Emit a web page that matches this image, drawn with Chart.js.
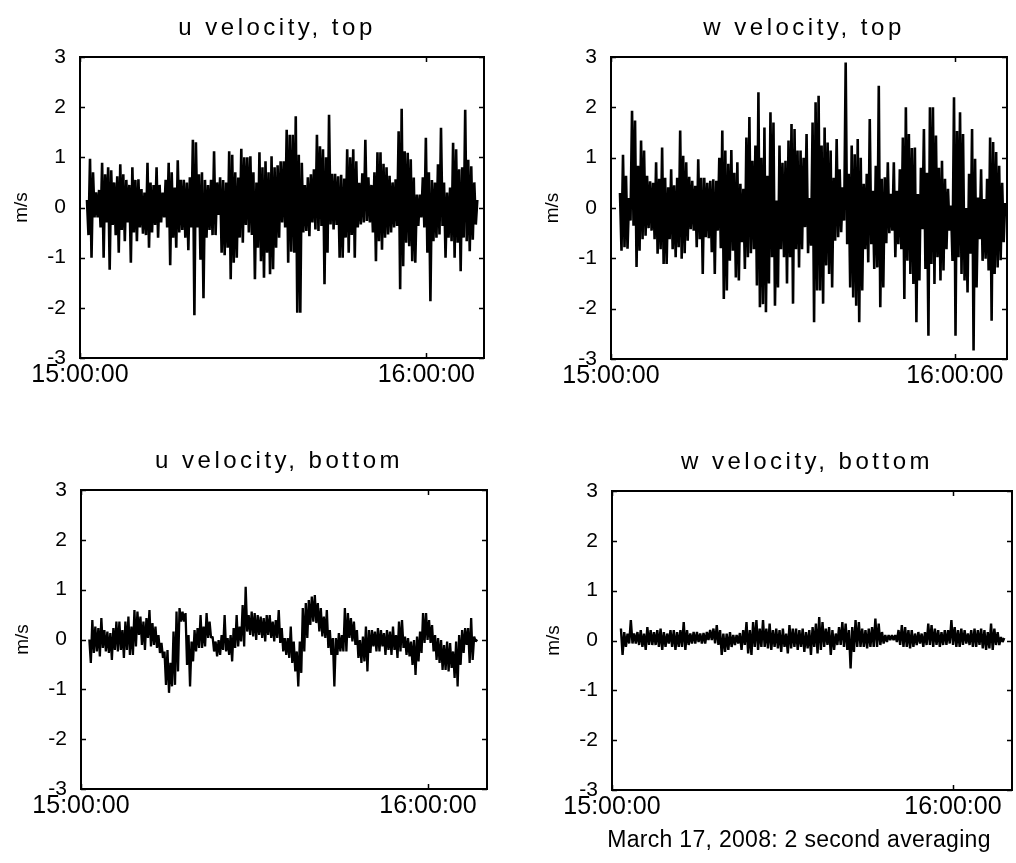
<!DOCTYPE html>
<html>
<head>
<meta charset="utf-8">
<title>Velocity records, March 17, 2008</title>
<script src="https://cdn.jsdelivr.net/npm/chart.js@4.4.1/dist/chart.umd.min.js"></script>
<style>
  html, body { margin: 0; padding: 0; background: #fff; overflow: hidden; }
  body { width: 1016px; height: 863px; position: relative; }
  canvas { position: absolute; }
</style>
</head>
<body>
<canvas id="p0"></canvas>
<canvas id="p1"></canvas>
<canvas id="p2"></canvas>
<canvas id="p3"></canvas>
<script>
// 2-second averaged velocities (m/s), stored as alternating local maxima / minima
// of each short stretch of the record, in time order.
const uTop = [
  0.15,-0.55, 0.97,-1.0, 0.7,-0.2, 0.3,-0.2, 0.35,-0.4, 0.89,-1.0, 0.66,-0.3, 0.8,-1.24, 0.74,-0.35, 0.5,-0.55,
  0.62,-0.9, 0.86,-0.45, 0.66,-0.67, 0.55,-0.3, 0.45,-1.1, 0.8,-0.5, 0.55,-0.67, 0.56,-0.4, 0.37,-0.52, 0.3,-0.55,
  0.89,-0.8, 0.5,-0.5, 0.45,-0.35, 0.8,-0.6, 0.45,-0.3, 0.3,-0.2, 0.55,-0.4, 0.89,-1.15, 0.7,-0.6, 0.4,-0.8,
  0.94,-0.5, 0.55,-0.45, 0.55,-0.6, 0.5,-0.85, 0.6,-0.4, 1.35,-2.15, 1.3,-0.4, 0.66,-1.04, 0.7,-1.81, 0.55,-0.6,
  0.45,-0.45, 0.55,-0.55, 1.12,-0.55, 0.5,-0.15, 0.6,-0.9, 0.55,-0.95, 0.5,-0.8, 1.12,-1.43, 1.05,-1.1, 0.7,-1.0,
  0.6,-0.6, 1.17,-0.7, 1.0,-0.35, 1.0,-0.5, 1.02,-0.55, 0.7,-1.43, 0.5,-0.8, 1.1,-1.07, 0.8,-1.4, 0.92,-0.9,
  0.7,-1.33, 1.02,-1.23, 0.8,-0.8, 0.84,-0.6, 0.92,-0.3, 0.92,-0.4, 1.55,-1.1, 1.45,-0.88, 1.45,-0.9, 1.82,-2.1,
  1.05,-2.1, 0.89,-0.5, 0.45,-0.47, 0.6,-0.57, 0.66,-0.3, 0.76,-0.44, 1.45,-0.47, 1.22,-0.37, 1.16,-1.53, 1.0,-0.9,
  1.85,-0.34, 0.67,-0.44, 0.67,-0.35, 0.62,-1.0, 0.65,-1.0, 0.58,-0.6, 1.16,-0.9, 1.0,-0.55, 1.16,-1.0, 0.92,-0.4,
  0.49,-0.34, 0.68,-0.3, 1.35,-0.27, 0.6,-0.3, 0.45,-0.5, 0.7,-1.07, 1.1,-0.67, 1.1,-0.84, 0.87,-0.6, 0.8,-0.54,
  0.63,-0.5, 0.5,-0.4, 0.56,-0.37, 1.52,-1.63, 1.97,-1.17, 1.12,-0.7, 1.09,-0.77, 0.96,-1.07, 0.6,-1.1, 0.26,-0.37,
  0.26,-0.2, 0.6,-0.4, 1.39,-0.9, 0.7,-1.87, 0.55,-0.67, 0.5,-0.6, 0.86,-0.54, 1.59,-0.37, 0.5,-1.0, 0.3,-0.6,
  0.4,-0.67, 1.29,-1.0, 1.16,-0.7, 0.76,-1.27, 0.8,-0.6, 1.95,-0.67, 0.95,-0.87, 0.82,-0.64, 0.5,-0.34, 0.15
];
const wTop = [
  0.3,-0.85, 1.06,-0.78, 0.64,-0.81, 0.2,-0.25, 1.93,-0.35, 1.74,-1.17, 0.84,-0.85, 1.34,-0.62, 1.14,-0.55, 0.64,-0.4,
  0.53,-0.45, 0.5,-0.62, 0.91,-0.91, 0.58,-0.82, 1.2,-1.11, 0.6,-1.11, 0.41,-0.62, 0.77,-0.82, 0.45,-0.98, 0.6,-0.78,
  1.54,-1.01, 1.04,-0.9, 0.91,-0.65, 0.62,-0.42, 0.54,-0.45, 0.44,-0.78, 0.97,-0.62, 0.6,-1.31, 0.6,-0.58, 0.5,-0.6,
  0.54,-0.88, 0.57,-1.31, 0.54,-0.45, 1.0,-0.8, 1.54,-1.81, 1.14,-1.64, 0.88,-1.05, 1.15,-0.85, 0.7,-1.38, 0.91,-1.44,
  0.48,-0.68, 0.38,-1.21, 1.4,-0.98, 1.81,-0.9, 0.94,-0.82, 1.24,-1.54, 2.3,-1.97, 1.0,-1.91, 1.6,-2.07, 0.64,-1.5,
  1.9,-0.98, 1.7,-1.94, 0.15,-1.58, 1.24,-0.82, 0.9,-0.98, 0.94,-1.5, 1.34,-0.98, 1.67,-1.9, 1.57,-0.82, 1.14,-1.18,
  1.14,-0.82, 1.0,-0.38, 1.47,-0.9, 0.2,-0.75, 1.7,-2.27, 2.1,-1.64, 2.23,-1.64, 1.24,-1.9, 1.6,-1.14, 1.3,-1.31,
  1.14,-1.58, 0.6,-0.65, 1.37,-0.58, 0.77,-0.48, 0.41,-0.25, 2.89,-0.72, 0.68,-1.58, 1.24,-1.78, 1.07,-1.94, 1.37,-2.27,
  1.0,-1.64, 0.48,-0.82, 0.68,-1.08, 1.77,-0.72, 0.34,-1.21, 0.84,-1.18, 2.43,-1.97, 0.58,-1.58, 0.61,-0.7, 0.91,-0.5,
  0.28,-0.45, 0.91,-0.98, 0.34,-0.72, 0.77,-0.82, 1.4,-1.81, 2.0,-1.05, 1.47,-1.31, 1.19,-1.51, 1.2,-2.27, 0.28,-1.44,
  0.8,-0.42, 1.57,-1.21, 0.7,-2.54, 2.0,-1.11, 2.0,-1.51, 1.44,-0.98, 0.8,-1.44, 0.94,-1.24, 0.58,-0.82, 0.38,-0.45,
  0.05,-1.05, 2.2,-2.54, 1.53,-0.98, 1.9,-1.31, 1.47,-1.44, 0.0,-1.68, 0.68,-0.91, 1.57,-2.83, 0.98,-1.58, 0.21,-0.62,
  0.77,-1.05, 0.18,-1.01, 0.58,-1.24, 1.4,-2.24, 1.31,-1.31, 1.11,-1.18, 0.84,-1.04, 0.5,-0.68, 0.1
];
const uBottom = [
  0.0,-0.47, 0.39,-0.27, 0.26,-0.24, 0.23,-0.34, 0.43,-0.17, 0.19,-0.24, 0.16,-0.27, 0.13,-0.41, 0.23,-0.21, 0.36,-0.24,
  0.36,-0.21, 0.19,-0.37, 0.36,-0.21, 0.46,-0.31, 0.26,-0.31, 0.59,-0.14, 0.56,0.09, 0.46,-0.11, 0.36,-0.21, 0.43,0.03,
  0.59,-0.14, 0.33,-0.11, 0.26,-0.17, 0.09,-0.27, -0.07,-0.37, -0.24,-0.91, -0.21,-1.07, -0.47,-0.94, 0.16,-0.91, 0.56,-0.64,
  0.63,0.36, 0.56,0.36, 0.53,-0.51, 0.09,-0.94, -0.04,-0.44, 0.19,-0.24, 0.23,-0.17, 0.49,-0.17, 0.26,-0.14, 0.53,0.03,
  0.36,0.03, 0.06,-0.24, -0.04,-0.34, -0.01,-0.31, 0.09,-0.21, 0.49,-0.24, 0.03,-0.31, 0.09,-0.44, 0.23,-0.17, 0.49,-0.14,
  0.26,-0.04, 0.69,-0.14, 1.06,0.16, 0.49,0.09, 0.56,0.06, 0.53,-0.01, 0.49,0.09, 0.46,0.03, 0.43,-0.04, 0.49,0.09,
  0.49,0.03, 0.36,-0.04, 0.39,0.03, 0.59,-0.07, 0.23,-0.24, 0.03,-0.31, 0.03,-0.37, 0.26,-0.47, -0.04,-0.64, -0.24,-0.94,
  -0.04,-0.67, 0.63,-0.24, 0.73,0.03, 0.79,0.29, 0.86,0.36, 0.89,0.33, 0.73,0.16, 0.63,0.06, 0.46,0.03, 0.59,-0.17,
  0.19,-0.31, 0.03,-0.94, 0.03,-0.31, 0.13,-0.24, 0.09,-0.24, 0.63,-0.24, 0.53,0.03, 0.43,-0.04, 0.36,-0.11, 0.19,-0.37,
  -0.01,-0.47, 0.06,-0.44, 0.26,-0.64, 0.19,-0.27, 0.19,-0.14, 0.16,-0.24, 0.23,-0.24, 0.19,-0.14, 0.13,-0.31, 0.19,-0.21,
  0.16,-0.31, 0.26,-0.21, 0.09,-0.37, 0.36,-0.24, 0.39,-0.17, 0.06,-0.31, 0.03,-0.34, -0.04,-0.51, -0.01,-0.71, 0.06,-0.44,
  0.16,-0.27, 0.53,-0.07, 0.53,-0.01, 0.39,-0.07, 0.29,-0.24, 0.09,-0.41, 0.03,-0.47, -0.01,-0.61, -0.11,-0.61, -0.04,-0.64,
  -0.07,-0.57, -0.24,-0.77, -0.04,-0.94, 0.09,-0.51, 0.19,-0.27, 0.23,-0.11, 0.23,-0.47, 0.43,-0.41, 0.06,-0.04, 0.0
];
const wBottom = [
  0.24,-0.29, 0.17,-0.13, 0.14,-0.06, 0.41,-0.06, 0.14,-0.06, 0.17,-0.09, 0.21,-0.13, 0.14,-0.19, 0.27,-0.09, 0.21,-0.09,
  0.17,-0.09, 0.21,-0.13, 0.24,-0.19, 0.17,-0.13, 0.14,-0.06, 0.21,-0.13, 0.21,-0.19, 0.17,-0.13, 0.21,-0.13, 0.37,-0.19,
  0.21,-0.09, 0.14,-0.06, 0.17,-0.06, 0.17,-0.03, 0.14,-0.06, 0.15,-0.06, 0.17,0.01, 0.21,0.01, 0.24,-0.06, 0.31,-0.09,
  0.21,-0.29, 0.14,-0.23, 0.14,-0.19, 0.17,-0.13, 0.11,-0.09, 0.11,-0.06, 0.15,-0.19, 0.21,-0.09, 0.37,-0.26, 0.21,-0.29,
  0.37,-0.13, 0.41,-0.19, 0.24,-0.13, 0.41,-0.13, 0.24,-0.16, 0.34,-0.19, 0.21,-0.13, 0.24,-0.16, 0.21,-0.23, 0.24,-0.13,
  0.14,-0.26, 0.31,-0.16, 0.24,-0.13, 0.24,-0.19, 0.21,-0.13, 0.24,-0.23, 0.17,-0.16, 0.21,-0.29, 0.27,-0.13, 0.34,-0.26,
  0.47,-0.19, 0.37,-0.13, 0.24,-0.09, 0.27,-0.29, 0.21,-0.19, 0.14,-0.09, 0.27,-0.09, 0.37,-0.13, 0.34,-0.19, 0.21,-0.56,
  0.27,-0.23, 0.41,-0.13, 0.37,-0.13, 0.24,-0.13, 0.21,-0.16, 0.24,-0.13, 0.27,-0.13, 0.44,-0.13, 0.34,-0.09, 0.17,-0.06,
  0.11,-0.03, 0.11,0.01, 0.11,0.01, 0.11,-0.03, 0.21,-0.09, 0.31,-0.13, 0.27,-0.13, 0.21,-0.16, 0.21,-0.13, 0.14,-0.09,
  0.17,-0.06, 0.14,-0.13, 0.17,-0.09, 0.34,-0.09, 0.31,-0.13, 0.24,-0.09, 0.21,-0.13, 0.17,-0.09, 0.21,-0.09, 0.21,-0.06,
  0.41,-0.09, 0.27,-0.13, 0.21,-0.13, 0.24,-0.09, 0.21,-0.06, 0.14,-0.09, 0.21,-0.13, 0.24,-0.13, 0.21,-0.09, 0.24,-0.16,
  0.21,-0.19, 0.17,-0.16, 0.34,-0.19, 0.24,-0.09, 0.17,-0.09, 0.07,-0.03, 0.05
];

// Record start / end, minutes after 15:00:00, for each panel's series.
const recordStartMin = [1.21, 1.57, 1.44, 1.57];
const recordEndMin = [68.84, 68.78, 68.5, 69.04];

const panelTitles = ['u velocity, top', 'w velocity, top', 'u velocity, bottom', 'w velocity, bottom'];
const timeTickMinutes = [0, 60];
const timeTickLabels = ['15:00:00', '16:00:00'];
const unitLabel = 'm/s';
const footerText = 'March 17, 2008: 2 second averaging';

const series = [uTop, wTop, uBottom, wBottom];

// Canvas placement, axis sizes and trace width for the 2x2 grid of panels.
const Y_AXIS_W = 80;
const TOP_PAD = 57;
const grid = [
  { x: 0,   y: 0,   w: 490, h: 420, xAxisH: 62, rightPad: 6, xMax: 70.0, lw: 2.6 },
  { x: 531, y: 0,   w: 482, h: 421, xAxisH: 62, rightPad: 6, xMax: 69.1, lw: 2.6 },
  { x: 1,   y: 433, w: 492, h: 418, xAxisH: 62, rightPad: 6, xMax: 70.2, lw: 2.3 },
  { x: 532, y: 434, w: 484, h: 429, xAxisH: 73, rightPad: 4, xMax: 70.4, lw: 2.4 }
];

const SANS = '"Liberation Sans", Arial, Helvetica, sans-serif';

function toPoints(values, tStart, tEnd) {
  const dt = (tEnd - tStart) / (values.length - 1);
  return values.map((v, i) => ({ x: tStart + i * dt, y: v }));
}

// Box frame with inward tick marks, panel title and optional caption.
const panelFrame = {
  id: 'panelFrame',
  afterDraw(chart, args, opts) {
    const { ctx, chartArea: a, scales: { x, y } } = chart;
    ctx.save();
    ctx.strokeStyle = '#000';
    ctx.lineWidth = 2;
    ctx.strokeRect(a.left, a.top, a.right - a.left, a.bottom - a.top);
    ctx.lineWidth = 1.5;
    ctx.beginPath();
    y.ticks.forEach(t => {
      const py = Math.round(y.getPixelForValue(t.value)) + 0.5;
      ctx.moveTo(a.left, py); ctx.lineTo(a.left + 5, py);
      ctx.moveTo(a.right, py); ctx.lineTo(a.right - 5, py);
    });
    x.ticks.forEach(t => {
      const px = Math.round(x.getPixelForValue(t.value)) + 0.5;
      ctx.moveTo(px, a.bottom); ctx.lineTo(px, a.bottom - 5);
      ctx.moveTo(px, a.top); ctx.lineTo(px, a.top + 5);
    });
    ctx.stroke();

    ctx.fillStyle = '#000';
    ctx.textAlign = 'center';
    ctx.textBaseline = 'alphabetic';
    ctx.font = '24px ' + SANS;
    ctx.letterSpacing = '3.5px';
    ctx.fillText(opts.title, (a.left + a.right) / 2 - 5, a.top - 22);
    if (opts.caption) {
      ctx.font = '23px ' + SANS;
      ctx.letterSpacing = '0.3px';
      ctx.fillText(opts.caption, (a.left + a.right) / 2 - 13, a.bottom + 57);
    }
    ctx.letterSpacing = '0px';
    ctx.restore();
  }
};

grid.forEach((g, i) => {
  const cv = document.getElementById('p' + i);
  cv.width = g.w;
  cv.height = g.h;
  cv.style.left = g.x + 'px';
  cv.style.top = g.y + 'px';

  new Chart(cv, {
    type: 'line',
    data: {
      datasets: [{
        data: toPoints(series[i], recordStartMin[i], recordEndMin[i]),
        borderColor: '#000',
        borderWidth: g.lw,
        borderJoinStyle: 'bevel',
        pointRadius: 0,
        tension: 0,
        fill: false
      }]
    },
    options: {
      responsive: false,
      animation: false,
      events: [],
      layout: { padding: { top: TOP_PAD, right: g.rightPad, bottom: 0, left: 0 } },
      plugins: {
        legend: { display: false },
        tooltip: { enabled: false },
        title: { display: false },
        panelFrame: { title: panelTitles[i], caption: i === 3 ? footerText : '' }
      },
      scales: {
        x: {
          type: 'linear',
          min: 0,
          max: g.xMax,
          grid: { display: false, drawTicks: false },
          border: { display: false },
          afterBuildTicks: s => { s.ticks = timeTickMinutes.map(v => ({ value: v })); },
          afterFit: s => { s.height = g.xAxisH; },
          ticks: {
            autoSkip: false,
            maxRotation: 0,
            padding: 5,
            color: '#000',
            font: { family: SANS, size: 25, lineHeight: 1 },
            callback: (v, idx) => timeTickLabels[idx]
          }
        },
        y: {
          min: -3,
          max: 3,
          grid: { display: false, drawTicks: false },
          border: { display: false },
          afterFit: s => { s.width = Y_AXIS_W; },
          ticks: {
            stepSize: 1,
            padding: 14,
            color: '#000',
            font: { family: SANS, size: 21, lineHeight: 1 }
          },
          title: {
            display: true,
            text: unitLabel,
            color: '#000',
            font: { family: SANS, size: 19, lineHeight: 1 },
            padding: { top: 12.5, bottom: 0 }
          }
        }
      }
    },
    plugins: [panelFrame]
  });
});
</script>
</body>
</html>
